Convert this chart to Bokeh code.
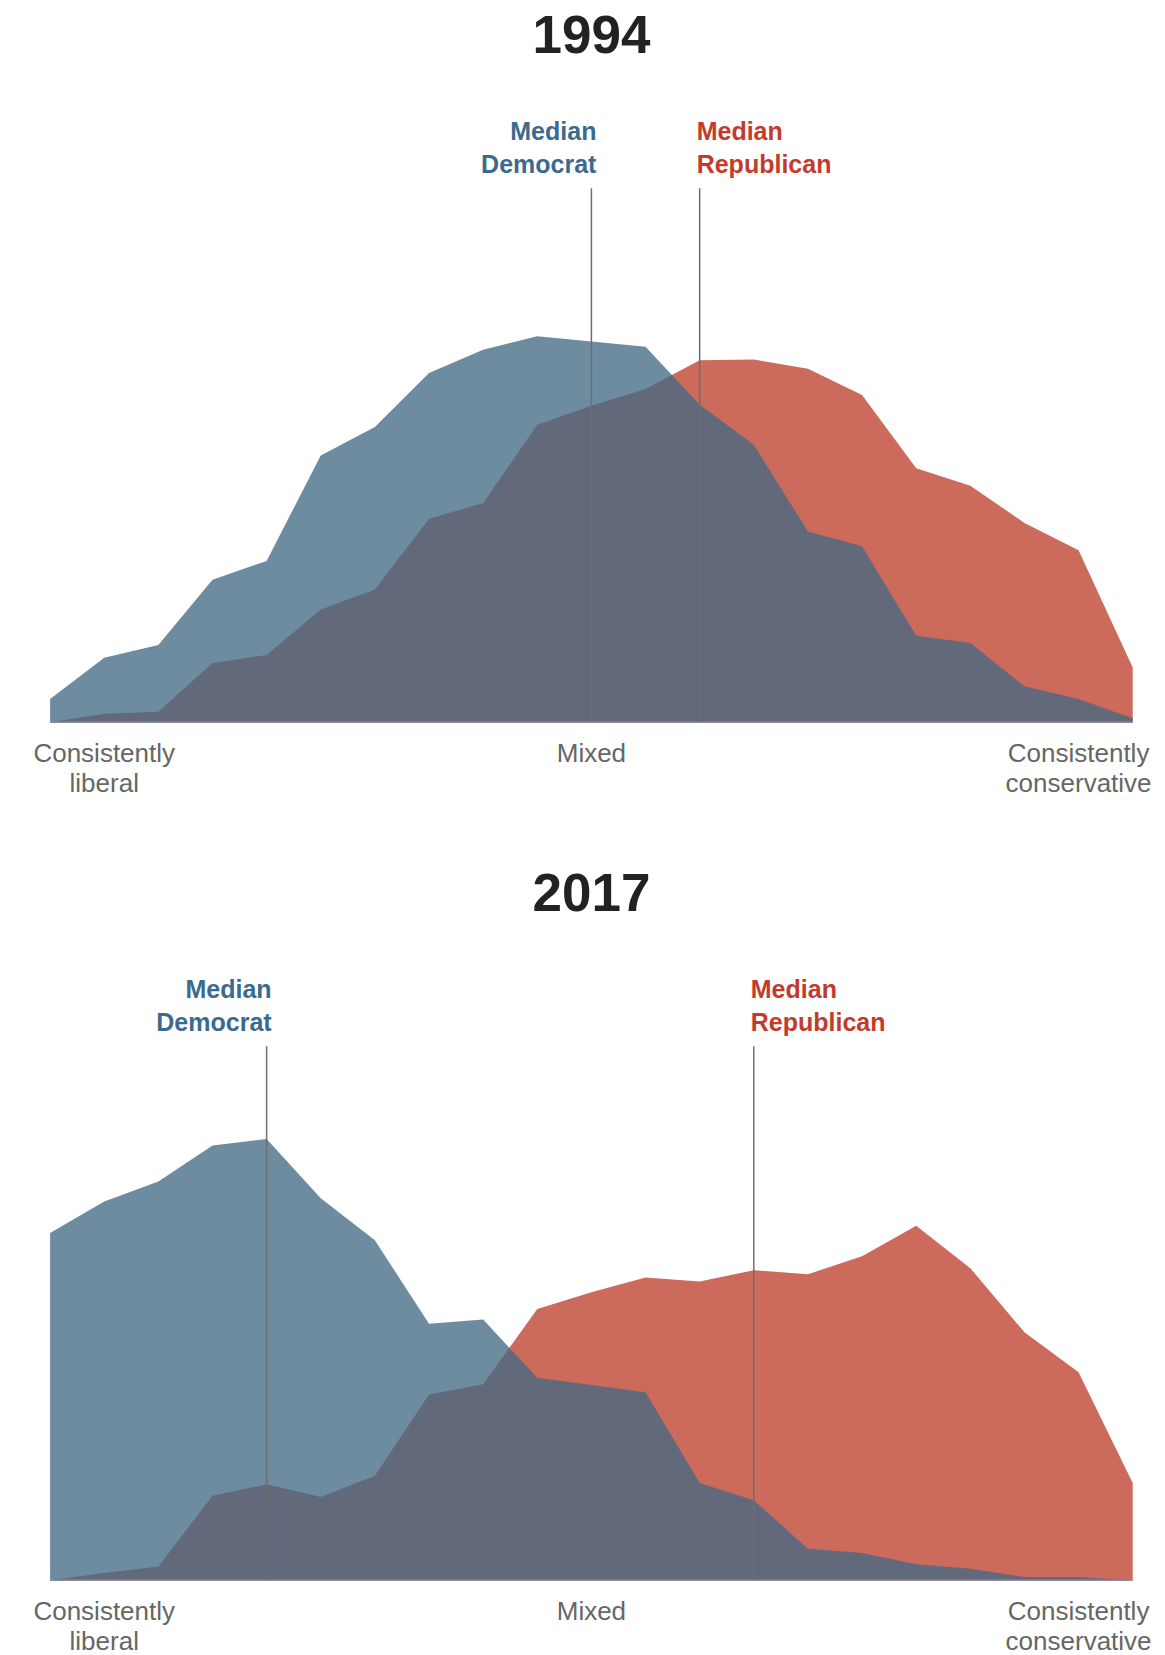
import numpy as np
from bokeh.plotting import figure
from bokeh.layouts import column
from bokeh.models import Range1d
from bokeh.core.properties import value
from bokeh.embed import file_html
from bokeh.resources import INLINE

# Ideological consistency scale (-10 consistently liberal ... +10 consistently conservative)
scale = list(range(-10, 11))

# Share of each party at each scale point (%)
dem_1994 = [0.57, 1.58, 1.89, 3.49, 3.95, 6.53, 7.23, 8.55, 9.12, 9.45, 9.32,
            9.19, 7.77, 6.79, 4.67, 4.31, 2.12, 1.94, 0.88, 0.57, 0.10]
rep_1994 = [0.0, 0.21, 0.26, 1.45, 1.65, 2.76, 3.25, 4.98, 5.37, 7.28, 7.75,
            8.16, 8.86, 8.88, 8.65, 8.01, 6.22, 5.79, 4.88, 4.21, 1.34]
dem_2017 = [8.50, 9.27, 9.76, 10.64, 10.80, 9.35, 8.32, 6.28, 6.38, 4.96, 4.78,
            4.60, 2.38, 1.96, 0.77, 0.67, 0.39, 0.28, 0.08, 0.08, 0.0]
rep_2017 = [0.0, 0.18, 0.34, 2.07, 2.35, 2.04, 2.56, 4.55, 4.80, 6.64, 7.05,
            7.41, 7.31, 7.59, 7.49, 7.93, 8.68, 7.64, 6.07, 5.09, 2.38]

median_dem = {"1994": 0, "2017": -6}
median_rep = {"1994": 2, "2017": 3}

tick_pos = [-9, 0, 9]
tick_line1 = ["Consistently", "Mixed", "Consistently"]
tick_line2 = ["liberal", "", "conservative"]

BLUE_FILL = "#416a84"
RED_FILL = "#cc6a5c"
BLUE_TXT = "#3b6a8f"
RED_TXT = "#c23b2c"
FONT = "Liberation Sans"

W = 1165
PXU_X = 54.13
X0 = -10 - 49.6 / PXU_X
X_RANGE = (X0, X0 + W / PXU_X)
PX = 40.86


def make_chart(year, dem, rep, height, base_from_top):
    ytop = base_from_top / PX
    ybot = -(height - base_from_top) / PX
    p = figure(width=W, height=height, output_backend="svg", toolbar_location=None,
               x_range=Range1d(*X_RANGE), y_range=Range1d(ybot, ytop),
               min_border=0, min_border_left=0, min_border_right=0,
               min_border_top=0, min_border_bottom=0)
    p.axis.visible = False
    p.grid.visible = False
    p.outline_line_color = None
    p.background_fill_color = "white"
    p.border_fill_color = "white"

    x = np.array(scale, dtype=float)
    zero = np.zeros_like(x)
    p.varea(x=x, y1=zero, y2=np.array(rep), fill_color=RED_FILL, fill_alpha=1.0)
    p.varea(x=x, y1=zero, y2=np.array(dem), fill_color=BLUE_FILL, fill_alpha=0.77)

    # baseline
    p.line(x=[scale[0], scale[-1]], y=[0, 0], line_color="#8e8c9c", line_width=1.5)

    # median lines
    top = 13.07
    for mx in (median_dem[year], median_rep[year]):
        p.segment(x0=[mx], y0=[0], x1=[mx], y1=[top], line_color="#6e6e6e", line_width=1.5)

    # median labels
    p.text(x=[median_dem[year]] * 2, y=[14.46, 13.66], text=["Median", "Democrat"],
           text_align="right", text_baseline="middle", x_offset=5,
           text_font=value(FONT), text_font_style="bold", text_font_size="25px",
           text_color=BLUE_TXT)
    p.text(x=[median_rep[year]] * 2, y=[14.46, 13.66], text=["Median", "Republican"],
           text_align="left", text_baseline="middle", x_offset=-3,
           text_font=value(FONT), text_font_style="bold", text_font_size="25px",
           text_color=RED_TXT)

    # title
    p.text(x=[0], y=[16.84], text=[year], text_align="center", text_baseline="middle",
           text_font=value(FONT), text_font_style="bold", text_font_size="53px",
           text_color="#222222")

    # scale labels
    p.text(x=tick_pos, y=[-0.74] * 3, text=tick_line1, text_align="center",
           text_baseline="middle", text_font=value(FONT), text_font_size="26px",
           text_color="#666666")
    p.text(x=tick_pos, y=[-1.48] * 3, text=tick_line2, text_align="center",
           text_baseline="middle", text_font=value(FONT), text_font_size="26px",
           text_color="#666666")
    return p


p1 = make_chart("1994", dem_1994, rep_1994, 818, 721.8)
p2 = make_chart("2017", dem_2017, rep_2017, 837, 761.8)

layout = column(p1, p2, spacing=0)
open("out.html", "w").write(file_html(layout, INLINE))
